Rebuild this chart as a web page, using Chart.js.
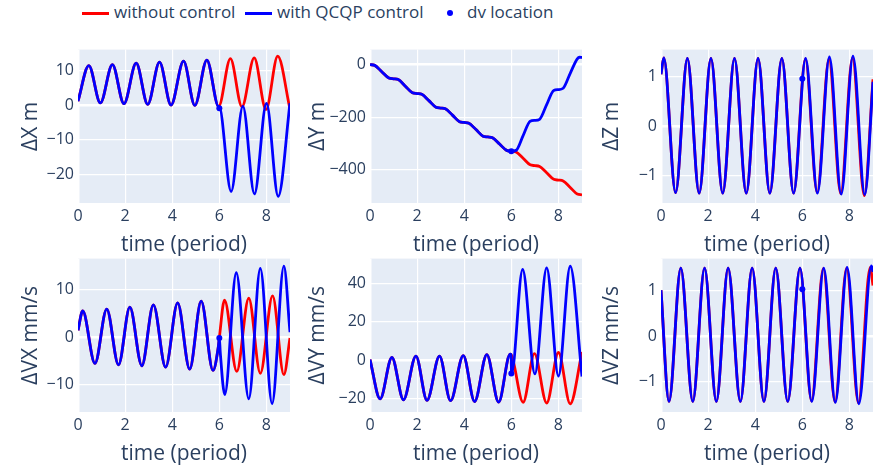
<!DOCTYPE html>
<html>
<head>
<meta charset="utf-8">
<title>relative motion with and without QCQP control</title>
<script src="https://cdn.jsdelivr.net/npm/chart.js@4.4.1/dist/chart.umd.min.js"></script>
<style>
  html, body { margin: 0; padding: 0; background: #fff; }
  body { position: relative; width: 880px; height: 470px; overflow: hidden;
         font-family: "Open Sans", sans-serif; color: #2a3f5f; }
  canvas { position: absolute; }
  .leg { position: absolute; top: 1px; font-size: 17px; line-height: 22px; white-space: nowrap; }
  .swatch { position: absolute; top: 12px; width: 27px; height: 3px; }
  .dot { position: absolute; top: 10px; width: 6px; height: 6px; border-radius: 50%; background: blue; }
</style>
</head>
<body>
<div class="swatch" style="left:82px;background:red"></div>
<div class="leg" style="left:114px">without control</div>
<div class="swatch" style="left:245px;background:blue"></div>
<div class="leg" style="left:277px">with QCQP control</div>
<div class="dot" style="left:447px"></div>
<div class="leg" style="left:467px">dv location</div>

<script>
// time (period) axis, shared by the six panels
var xTicks = [0, 2, 4, 6, 8];
var dvT = [6.0];

// ΔX m
var dxT     = [0, 0.46, 0.95, 1.46, 1.95, 2.47, 2.96, 3.46, 3.95, 4.48, 4.96, 5.47, 5.97, 5.99, 6.5, 7.0, 7.49, 8.0, 8.5, 9.0];
var dxBlue  = [1.1, 11.3, 0.6, 11.6, 0.4, 12.0, 0.2, 12.3, 0.0, 12.6, -0.1, 12.9, -0.4, -0.38, -24.8, -0.3, -25.5, 0.5, -26.2, 0.5];
var dxRedT  = [5.97, 6.47, 6.96, 7.48, 7.98, 8.48, 9.0];
var dxRed   = [-0.4, 13.3, -0.5, 13.5, -1.3, 14.0, -1.2];
var dxDv    = [-0.95];
var dxTicks = [-20, -10, 0, 10];

// ΔY m
var dyT     = [0, 0.2, 0.5, 0.8, 1.0, 1.2, 1.5, 1.8, 2.0, 2.2, 2.5, 2.8, 3.0, 3.2, 3.5, 3.8, 4.0, 4.2, 4.5, 4.8, 5.0, 5.2, 5.5, 5.8, 6.0,
               6.2, 6.5, 6.8, 7.0, 7.2, 7.5, 7.8, 8.0, 8.2, 8.5, 8.8, 8.9, 9.0];
var dyBlue  = [0, -3, -27, -51, -54, -57, -82, -107, -110, -113, -137, -162, -165, -168, -192, -217, -220, -223, -247, -272, -275, -278, -302, -326, -329,
               -326, -270, -215, -212, -208, -152, -98, -95, -90, -33, 22, 28, 27];
var dyRedT  = [6.0, 6.2, 6.5, 6.8, 7.0, 7.2, 7.5, 7.8, 8.0, 8.2, 8.5, 8.8, 9.0];
var dyRed   = [-329, -332, -356, -381, -384, -387, -411, -436, -439, -442, -467, -492, -495];
var dyDv    = [-329];
var dyTicks = [-400, -200, 0];

// ΔZ m
var dzT     = [0, 0.12, 0.62, 1.12, 1.62, 2.12, 2.62, 3.12, 3.62, 4.12, 4.62, 5.13, 5.63, 6.14, 6.64, 7.15, 7.65, 8.15, 8.65, 9.0];
var dzBlue  = [1.05, 1.38, -1.34, 1.37, -1.35, 1.37, -1.35, 1.37, -1.35, 1.37, -1.35, 1.37, -1.35, 1.37, -1.35, 1.40, -1.37, 1.42, -1.38, 0.9];
var dzRedT  = [6.13, 6.63, 7.13, 7.63, 8.13, 8.63, 9.0];
var dzRed   = [1.36, -1.34, 1.36, -1.36, 1.38, -1.40, 0.95];
var dzDv    = [0.96];
var dzTicks = [-1, 0, 1];

// ΔVX mm/s
var dvxT     = [0, 0.2, 0.72, 1.22, 1.72, 2.2, 2.71, 3.2, 3.72, 4.23, 4.74, 5.23, 5.73, 5.96, 6.0, 6.04, 6.23, 6.72, 7.25, 7.74, 8.24, 8.74, 9.0];
var dvxBlue  = [1.4, 5.5, -5.6, 5.9, -5.9, 6.3, -6.1, 6.8, -6.4, 7.2, -6.8, 7.6, -7.1, -2.0, -0.2, -3.3, -12.2, 13.6, -13.1, 14.5, -14.1, 15.0, 1.0];
var dvxRedT  = [6.0, 6.22, 6.74, 7.25, 7.74, 8.26, 8.74, 9.0];
var dvxRed   = [-0.2, 7.8, -7.3, 8.2, -7.7, 8.7, -8.0, -0.2];
var dvxDv    = [-0.2];
var dvxTicks = [-10, 0, 10];

// ΔVY mm/s
var dvyT     = [0, 0.43, 0.93, 1.42, 1.95, 2.42, 2.95, 3.42, 3.96, 4.44, 4.96, 5.46, 5.95, 5.99, 6.01, 6.48, 7.0, 7.5, 8.0, 8.5, 9.0];
var dvyBlue  = [0.3, -20.2, 1.4, -20.7, 2.1, -21.0, 2.1, -21.2, 2.4, -21.6, 2.9, -21.9, 3.1, 2.9, -7.0, 47.4, -7.2, 48.3, -8.3, 49.1, -8.6];
var dvyRedT  = [5.99, 6.5, 6.98, 7.5, 8.0, 8.5, 9.0];
var dvyRed   = [2.9, -22.0, 3.4, -22.4, 4.0, -22.8, 4.3];
var dvyDv    = [-7.0];
var dvyTicks = [-20, 0, 20, 40];

// ΔVZ mm/s
var dvzT     = [0, 0.34, 0.84, 1.35, 1.85, 2.35, 2.85, 3.37, 3.87, 4.37, 4.87, 5.38, 5.9, 6.4, 6.91, 7.4, 7.9, 8.4, 8.93, 9.0];
var dvzBlue  = [1.0, -1.43, 1.48, -1.43, 1.48, -1.43, 1.48, -1.43, 1.48, -1.43, 1.48, -1.43, 1.48, -1.43, 1.48, -1.45, 1.5, -1.48, 1.53, 1.4];
var dvzRedT  = [6.39, 6.89, 7.39, 7.88, 8.38, 8.88, 9.0];
var dvzRed   = [-1.42, 1.47, -1.44, 1.48, -1.46, 1.5, 1.1];
var dvzDv    = [1.02];
var dvzTicks = [-1, 0, 1];

function pts(ts, ys) {
	return ts.map(function(t, i) { return {x: t, y: ys[i]}; });
}
// uncontrolled run = controlled run up to the manoeuvre, then its own branch
function withTail(ts, ys, tailT, tailY) {
	return pts(ts, ys).filter(function(p) { return p.x < tailT[0]; }).concat(pts(tailT, tailY));
}
function minus(v) { return v < 0 ? '\u2212' + Math.abs(v) : '' + v; }

var panels = [
	{title: 'ΔX m',      t: dxT,  blue: dxBlue,  redT: dxRedT,  red: dxRed,  dv: dxDv,  ticks: dxTicks,  min: -28.1, max: 15.9, col: 0, row: 0},
	{title: 'ΔY m',      t: dyT,  blue: dyBlue,  redT: dyRedT,  red: dyRed,  dv: dyDv,  ticks: dyTicks,  min: -526,  max: 57,   col: 1, row: 0},
	{title: 'ΔZ m',      t: dzT,  blue: dzBlue,  redT: dzRedT,  red: dzRed,  dv: dzDv,  ticks: dzTicks,  min: -1.55, max: 1.55, col: 2, row: 0},
	{title: 'ΔVX mm/s',  t: dvxT, blue: dvxBlue, redT: dvxRedT, red: dvxRed, dv: dvxDv, ticks: dvxTicks, min: -15.9, max: 16.6, col: 0, row: 1},
	{title: 'ΔVY mm/s',  t: dvyT, blue: dvyBlue, redT: dvyRedT, red: dvyRed, dv: dvyDv, ticks: dvyTicks, min: -27.1, max: 53.1, col: 1, row: 1},
	{title: 'ΔVZ mm/s',  t: dvzT, blue: dvzBlue, redT: dvzRedT, red: dvzRed, dv: dvzDv, ticks: dvzTicks, min: -1.66, max: 1.69, col: 2, row: 1}
];

// page layout (pixels)
var colLeft = [78, 370, 661];
var rowTop = [48, 257];
var yTitleX = [31, 318, 612];
var PLOT_W = 212, PLOT_H = 155, YW = 72, XH = 56, PT = 12, PR = 8;
var INK = '#2a3f5f';

Chart.defaults.font.family = '"Open Sans", sans-serif';
Chart.defaults.color = INK;

var plotBg = {
	id: 'plotBg',
	beforeDraw: function(chart) {
		var a = chart.chartArea, c = chart.ctx;
		c.save();
		c.fillStyle = '#E5ECF6';
		c.fillRect(a.left, a.top, a.right - a.left, a.bottom - a.top);
		c.restore();
	}
};

function gridWidth(ctx) {
	return ctx.tick && ctx.tick.value === 0 ? 2.5 : 1.2;
}

panels.forEach(function(p) {
	var left = colLeft[p.col] - YW;
	var cv = document.createElement('canvas');
	cv.width = YW + PLOT_W + PR;
	cv.height = PT + PLOT_H + XH;
	cv.style.left = left + 'px';
	cv.style.top = (rowTop[p.row] - PT) + 'px';
	document.body.appendChild(cv);

	var titlePad = yTitleX[p.col] - left - 21 * 1.2 / 2;

	new Chart(cv.getContext('2d'), {
		type: 'line',
		data: {
			datasets: [{
				label: 'dv location',
				data: pts(dvT, p.dv),
				showLine: false,
				pointRadius: 3,
				pointBackgroundColor: 'blue',
				pointBorderWidth: 0,
				order: 1
			}, {
				label: 'with QCQP control',
				data: pts(p.t, p.blue),
				borderColor: 'blue',
				order: 2
			}, {
				label: 'without control',
				data: withTail(p.t, p.blue, p.redT, p.red),
				borderColor: 'red',
				order: 3
			}]
		},
		options: {
			responsive: false,
			animation: false,
			devicePixelRatio: 1,
			events: [],
			layout: { padding: { left: 0, top: PT, right: PR, bottom: 0 } },
			elements: {
				line: { borderWidth: 2.8, cubicInterpolationMode: 'monotone', fill: false },
				point: { radius: 0 }
			},
			plugins: { legend: { display: false }, tooltip: { enabled: false } },
			scales: {
				x: {
					type: 'linear', min: 0, max: 9,
					afterBuildTicks: function(s) { s.ticks = xTicks.map(function(v) { return {value: v}; }); },
					afterFit: function(s) { s.height = XH; },
					grid: { color: '#fff', lineWidth: gridWidth, drawTicks: false },
					border: { display: false },
					ticks: { padding: 4, color: INK, font: { size: 16 }, maxRotation: 0, autoSkip: false },
					title: { display: true, text: 'time (period)', color: INK, font: { size: 21 }, padding: { top: 0, bottom: 1 } }
				},
				y: {
					type: 'linear', min: p.min, max: p.max,
					afterBuildTicks: function(s) { s.ticks = p.ticks.map(function(v) { return {value: v}; }); },
					afterFit: function(s) { s.width = YW; },
					grid: { color: '#fff', lineWidth: gridWidth, drawTicks: false },
					border: { display: false },
					ticks: { padding: 4, color: INK, font: { size: 16 }, callback: minus },
					title: { display: true, text: p.title, color: INK, font: { size: 21 }, padding: { top: titlePad, bottom: 0 } }
				}
			}
		},
		plugins: [plotBg]
	});
});
</script>
</body>
</html>
